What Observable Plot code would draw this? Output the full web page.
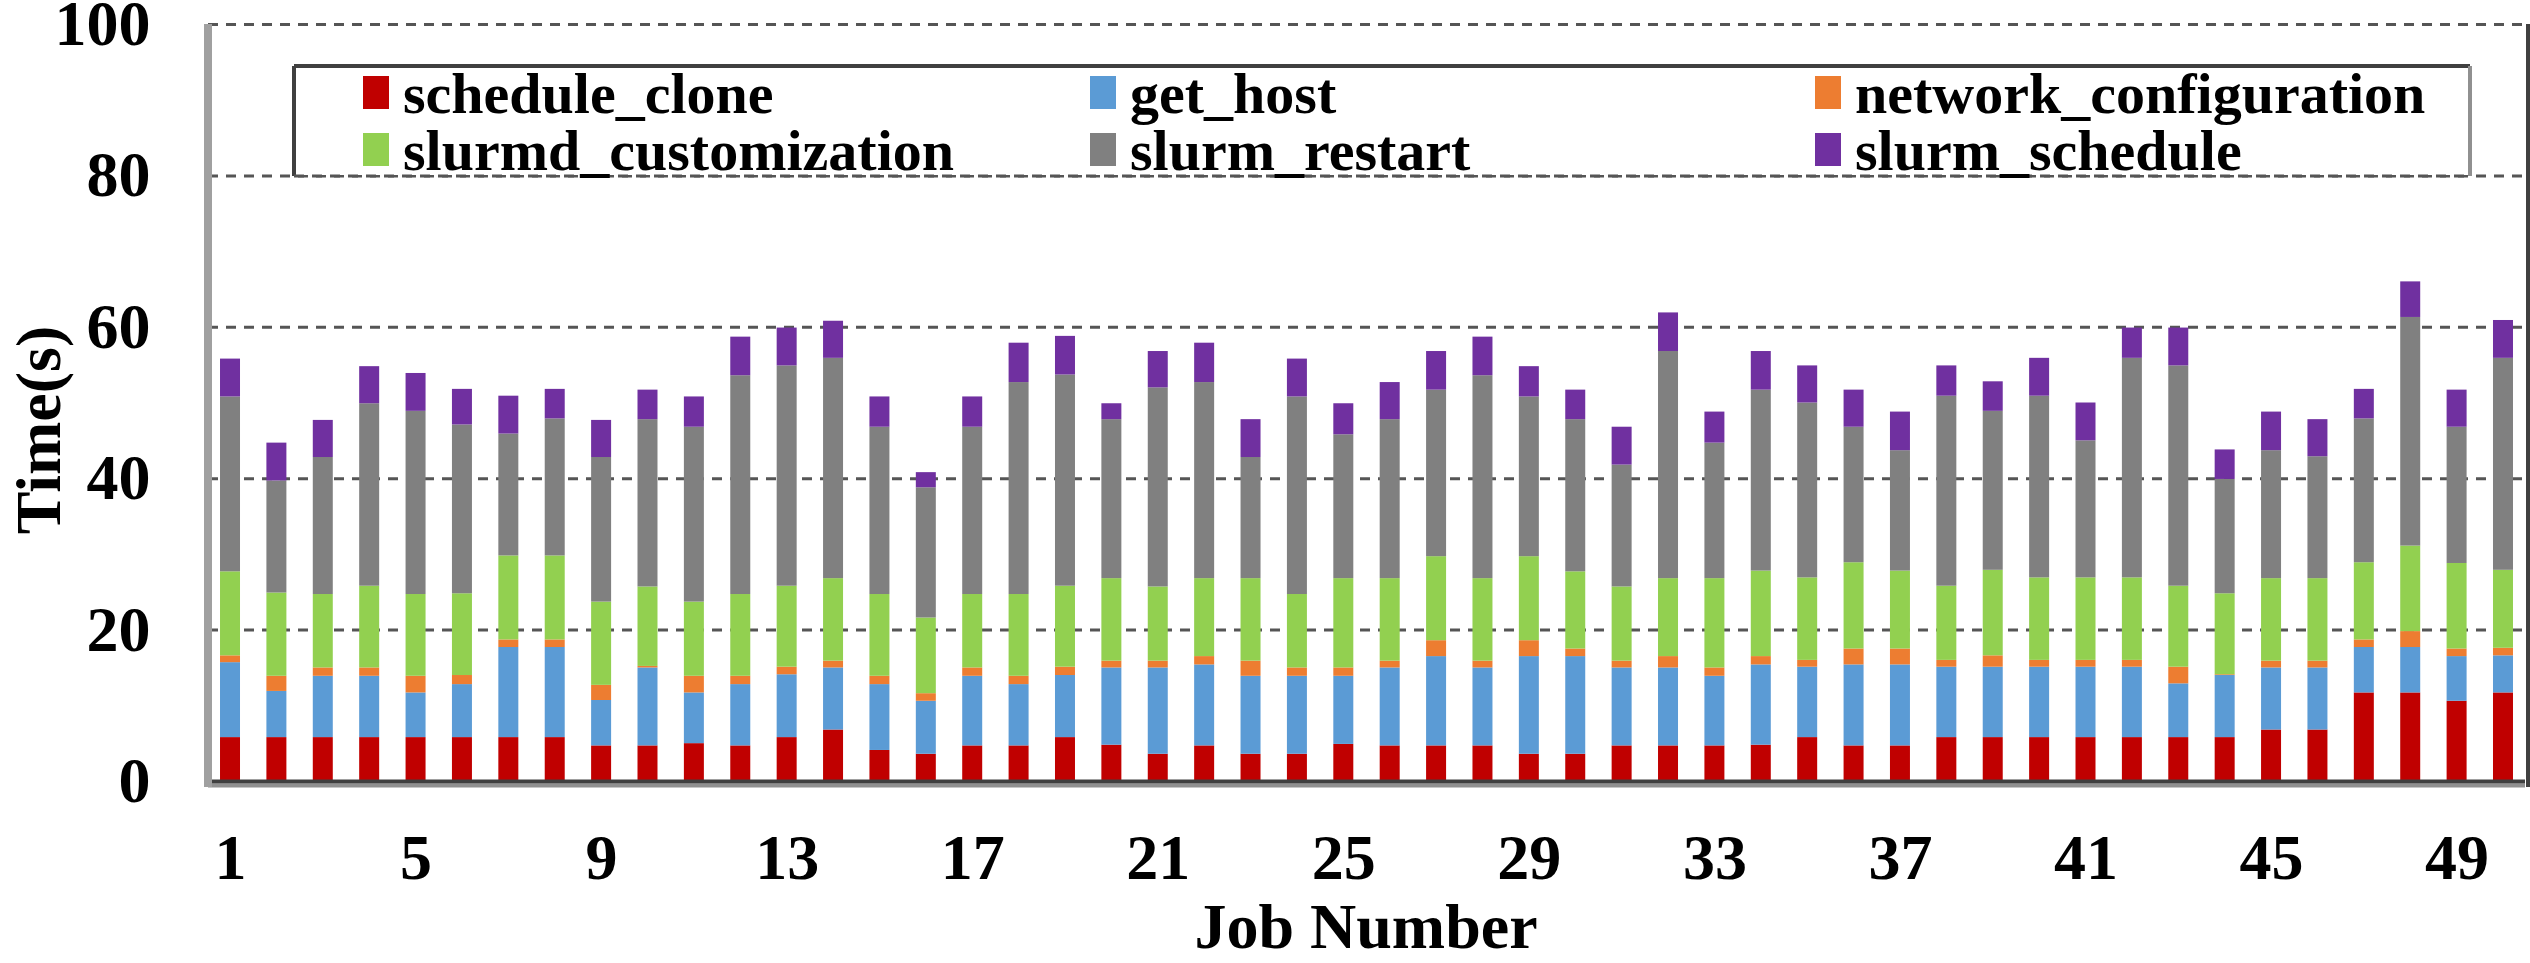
<!DOCTYPE html>
<html>
<head>
<meta charset="utf-8">
<script src="https://cdn.jsdelivr.net/npm/d3@7"></script>
<script src="https://cdn.jsdelivr.net/npm/@observablehq/plot@0.6"></script>
<style>
  html, body { margin: 0; padding: 0; background: #fff; }
  #chart { width: 2530px; height: 963px; }
</style>
</head>
<body>
<div id="chart"></div>
<script>
const phases = ["schedule_clone", "get_host", "network_configuration", "slurmd_customization", "slurm_restart", "slurm_schedule"];
const colors = ["#C00000", "#5B9BD5", "#ED7D31", "#92D050", "#808080", "#7030A0"];

const jobs = d3.range(1, 51);
const xTicks = [1, 5, 9, 13, 17, 21, 25, 29, 33, 37, 41, 45, 49];
const yTicks = [0, 20, 40, 60, 80, 100];
const gridVals = [20, 40, 60, 80, 100];

const scheduleClone = [5.8,5.8,5.8,5.8,5.8,5.8,5.8,5.8,4.7,4.7, 5.0,4.7,5.8,6.8,4.1,3.6,4.7,4.7,5.8,4.8, 3.6,4.7,3.6,3.6,4.9,4.7,4.7,4.7,3.6,3.6, 4.7,4.7,4.7,4.8,5.8,4.7,4.7,5.8,5.8,5.8, 5.8,5.8,5.8,5.8,6.8,6.8,11.7,11.7,10.6,11.7];
const getHost = [9.9,6.1,8.1,8.1,5.9,7.0,11.9,11.9,6.0,10.3, 6.7,8.1,8.3,8.2,8.7,7.0,9.2,8.1,8.2,10.2, 11.4,10.7,10.3,10.3,9.0,10.3,11.8,10.3,12.9,12.9, 10.3,10.3,9.2,10.6,9.3,10.7,10.7,9.3,9.3,9.3, 9.3,9.3,7.1,8.2,8.2,8.2,6.0,6.0,5.9,4.9];
const networkConfiguration = [0.9,2.0,1.1,1.1,2.2,1.2,1.0,1.0,2.0,0.2, 2.2,1.1,1.0,0.9,1.1,1.0,1.1,1.1,1.1,0.9, 0.9,1.1,2.0,1.1,1.1,0.9,2.1,0.9,2.1,1.0, 0.9,1.5,1.1,1.1,0.9,2.1,2.1,0.9,1.5,0.9, 0.9,0.9,2.2,0.1,0.9,0.9,1.0,2.1,1.0,1.0];
const slurmdCustomization = [11.1,11.0,9.7,10.8,10.8,10.8,11.1,11.1,11.0,10.5, 9.8,10.8,10.7,10.9,10.8,10.0,9.7,10.8,10.7,10.9, 9.8,10.3,10.9,9.7,11.8,10.9,11.1,10.9,11.1,10.2, 9.8,10.3,11.8,11.3,10.9,11.4,10.3,9.8,11.3,10.9, 10.9,10.9,10.7,10.7,10.9,10.9,10.2,11.3,11.3,10.3];
const slurmRestart = [23.1,14.8,18.1,24.1,24.2,22.3,16.1,18.1,19.1,22.1, 23.1,28.9,29.1,29.1,22.1,17.2,22.1,28.0,27.9,21.0, 26.3,25.9,16.0,26.1,19.0,21.0,22.0,26.8,21.1,20.1, 16.1,30.0,17.9,23.9,23.1,17.9,15.9,25.1,21.0,24.0, 18.1,29.0,29.1,15.1,16.9,16.1,19.0,30.2,18.0,28.0];
const slurmSchedule = [5.0,5.0,4.9,4.9,5.0,4.7,5.0,3.9,4.9,3.9, 4.0,5.1,5.0,4.9,4.0,2.0,4.0,5.2,5.1,2.1, 4.8,5.2,5.0,5.0,4.1,4.9,5.1,5.1,4.0,3.9, 5.0,5.1,4.1,5.1,4.9,4.9,5.1,4.0,3.9,5.0, 5.0,4.0,5.0,3.9,5.1,4.9,3.9,4.7,4.9,5.0];

const series = [scheduleClone, getHost, networkConfiguration, slurmdCustomization, slurmRestart, slurmSchedule];
const rows = [];
jobs.forEach((job, i) => {
  phases.forEach((phase, k) => rows.push({job, phase, value: series[k][i]}));
});

const FONT = "'Liberation Serif', 'Times New Roman', Times, serif";

const chart = Plot.plot({
  width: 2530,
  height: 963,
  marginLeft: 208,
  marginRight: 5,
  marginTop: 24,
  marginBottom: 182,
  style: {fontFamily: FONT, fontWeight: "bold", fontSize: "64px", background: "#fff", color: "#000"},
  x: {type: "band", domain: jobs, paddingInner: 0.569, paddingOuter: 0.259, round: false, label: null},
  y: {domain: [0, 100], label: null},
  color: {domain: phases, range: colors},
  marks: [
    Plot.ruleY(gridVals, {stroke: "#555", strokeWidth: 3, strokeDasharray: "10,8"}),
    Plot.barY(rows, {x: "job", y: "value", fill: "phase"}),
    Plot.ruleY([0], {stroke: "#909090", strokeWidth: 4, dy: 4}),
    Plot.ruleY([0], {stroke: "#404040", strokeWidth: 4}),
    Plot.axisX({ticks: xTicks, tickSize: 0, tickPadding: 52, label: null, fontSize: 64, fontWeight: "bold"}),
    Plot.axisY({ticks: yTicks, tickSize: 0, tickPadding: 58, label: null, fontSize: 64, fontWeight: "bold", tickFormat: d => String(d)})
  ]
});

const svg = d3.select(chart);
// frame sides
svg.append("line").attr("x1", 208).attr("x2", 208).attr("y1", 24).attr("y2", 787)
  .attr("stroke", "#a0a0a0").attr("stroke-width", 8);
svg.append("line").attr("x1", 2528).attr("x2", 2528).attr("y1", 24).attr("y2", 787)
  .attr("stroke", "#404040").attr("stroke-width", 4);

// legend
const lg = svg.append("g").attr("text-anchor", "start");
lg.append("rect").attr("x", 294).attr("y", 66).attr("width", 2176).attr("height", 109).attr("fill", "#fff");
lg.append("line").attr("x1", 294).attr("x2", 2470).attr("y1", 66).attr("y2", 66).attr("stroke", "#404040").attr("stroke-width", 4);
lg.append("line").attr("x1", 294).attr("x2", 294).attr("y1", 66).attr("y2", 176).attr("stroke", "#404040").attr("stroke-width", 4);
lg.append("line").attr("x1", 2470).attr("x2", 2470).attr("y1", 66).attr("y2", 176).attr("stroke", "#909090").attr("stroke-width", 4);
lg.append("line").attr("x1", 294).attr("x2", 2470).attr("y1", 176).attr("y2", 176).attr("stroke", "#555").attr("stroke-width", 3).attr("stroke-dasharray", "10,8");
const colX = [363, 1090, 1815];
const rowY = [76, 133];
phases.forEach((p, i) => {
  const c = i % 3, r = Math.floor(i / 3);
  lg.append("rect").attr("x", colX[c]).attr("y", rowY[r]).attr("width", 26).attr("height", 33).attr("fill", colors[i]);
  lg.append("text").attr("x", colX[c] + 40).attr("y", rowY[r] + 37).attr("text-anchor", "start")
    .attr("font-family", FONT).attr("font-weight", "bold").attr("font-size", 58).attr("fill", "#000")
    .text(p);
});

// axis titles
svg.append("text").attr("x", 1366).attr("y", 948).attr("text-anchor", "middle")
  .attr("font-family", FONT).attr("font-weight", "bold").attr("font-size", 64).attr("fill", "#000")
  .text("Job Number");
svg.append("text").attr("transform", "translate(60,430) rotate(-90)").attr("text-anchor", "middle")
  .attr("font-family", FONT).attr("font-weight", "bold").attr("font-size", 64).attr("fill", "#000")
  .text("Time(s)");

document.getElementById("chart").appendChild(chart);
</script>
</body>
</html>
